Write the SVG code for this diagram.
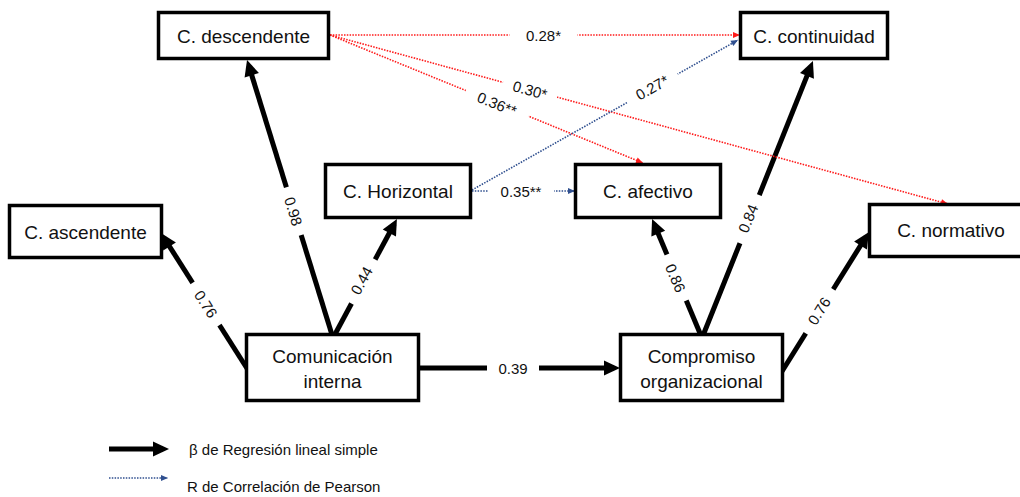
<svg xmlns="http://www.w3.org/2000/svg" width="1020" height="497" viewBox="0 0 1020 497">
<style>
.box{fill:#fff;stroke:#000;stroke-width:3.5}
.nt{font-family:"Liberation Sans",Arial,sans-serif;font-size:19px;fill:#111;text-anchor:middle}
.reg{stroke:#000;stroke-width:5;fill:none;marker-end:url(#ah)}
.red{stroke:#ff1a1a;stroke-width:1.6;stroke-dasharray:1.5 1.3;fill:none;marker-end:url(#ahr)}
.blu{stroke:#2f4f8f;stroke-width:1.6;stroke-dasharray:1.5 1.3;fill:none;marker-end:url(#ahb)}
.lb{font-family:"Liberation Sans",Arial,sans-serif;font-size:15px;fill:#111;text-anchor:middle}
.bg{fill:#fff}
.lg{font-family:"Liberation Sans",Arial,sans-serif;font-size:15px;fill:#111}
</style>
<defs>
<marker id="ah" markerUnits="strokeWidth" markerWidth="3.2" markerHeight="3" refX="2" refY="1.5" orient="auto" overflow="visible"><path d="M0,0 L3.2,1.5 L0,3 z" fill="#000"/></marker>
<marker id="ahr" markerUnits="userSpaceOnUse" markerWidth="7" markerHeight="6" refX="7" refY="3" orient="auto" overflow="visible"><path d="M0,0 L7,3 L0,6 z" fill="#ff1a1a"/></marker>
<marker id="ahb" markerUnits="userSpaceOnUse" markerWidth="7" markerHeight="6" refX="7" refY="3" orient="auto" overflow="visible"><path d="M0,0 L7,3 L0,6 z" fill="#2f4f8f"/></marker>
</defs>
<g id="connectors">
<line class="reg" x1="333" y1="338" x2="248.8" y2="65.7"/>
<line class="reg" x1="333" y1="338" x2="394.1" y2="224.2"/>
<line class="reg" x1="248" y1="370" x2="164.2" y2="238.1"/>
<line class="reg" x1="417" y1="368" x2="614" y2="368"/>
<line class="reg" x1="702" y1="338" x2="654.4" y2="224.5"/>
<line class="reg" x1="702" y1="338" x2="810.7" y2="66.6"/>
<line class="reg" x1="781" y1="373" x2="865.8" y2="237.1"/>
<line class="red" x1="330" y1="35" x2="740" y2="35"/>
<line class="red" x1="330" y1="35" x2="643" y2="163"/>
<line class="red" x1="330" y1="35" x2="948" y2="204"/>
<line class="blu" x1="472" y1="190" x2="738" y2="40"/>
<line class="blu" x1="472" y1="191" x2="575" y2="191"/>
<g transform="translate(293.5,211.3) rotate(72.6)"><rect class="bg" x="-25" y="-8" width="50" height="16"/><text class="lb" y="5.5">0.98</text></g>
<g transform="translate(361.5,280.5) rotate(-61)"><rect class="bg" x="-25" y="-8" width="50" height="16"/><text class="lb" y="5.5">0.44</text></g>
<g transform="translate(206,304) rotate(57.6)"><rect class="bg" x="-25" y="-8" width="50" height="16"/><text class="lb" y="5.5">0.76</text></g>
<g transform="translate(513,368)"><rect class="bg" x="-26" y="-8" width="52" height="16"/><text class="lb" y="5.5">0.39</text></g>
<g transform="translate(675.5,278) rotate(66.5)"><rect class="bg" x="-25" y="-8" width="50" height="16"/><text class="lb" y="5.5">0.86</text></g>
<g transform="translate(748,218.5) rotate(-67.8)"><rect class="bg" x="-26" y="-8" width="52" height="16"/><text class="lb" y="5.5">0.84</text></g>
<g transform="translate(819,311) rotate(-58)"><rect class="bg" x="-26" y="-8" width="52" height="16"/><text class="lb" y="5.5">0.76</text></g>
<g transform="translate(543.5,35)"><rect class="bg" x="-34" y="-7" width="68" height="14"/><text class="lb" y="5.5">0.28*</text></g>
<g transform="translate(497,104) rotate(22.2)"><rect class="bg" x="-34" y="-7" width="68" height="14"/><text class="lb" y="5.5">0.36**</text></g>
<g transform="translate(530,90) rotate(15.3)"><rect class="bg" x="-28" y="-7" width="56" height="14"/><text class="lb" y="5.5">0.30*</text></g>
<g transform="translate(652,87.5) rotate(-29.3)"><rect class="bg" x="-29" y="-7" width="58" height="14"/><text class="lb" y="5.5">0.27*</text></g>
<g transform="translate(521,191)"><rect class="bg" x="-33" y="-7" width="66" height="14"/><text class="lb" y="5.5">0.35**</text></g>
</g>
<g id="n-descendente"><rect class="box" x="158.5" y="12.5" width="170" height="46"/><text class="nt" x="243.5" y="42.5">C. descendente</text></g>
<g id="n-continuidad"><rect class="box" x="740.5" y="12.5" width="147" height="46"/><text class="nt" x="814" y="42.5">C. continuidad</text></g>
<g id="n-ascendente"><rect class="box" x="9.5" y="205.5" width="152" height="52"/><text class="nt" x="85.5" y="238.5">C. ascendente</text></g>
<g id="n-horizontal"><rect class="box" x="325.5" y="164.5" width="145" height="53"/><text class="nt" x="398" y="198">C. Horizontal</text></g>
<g id="n-afectivo"><rect class="box" x="575.5" y="164.5" width="145" height="53"/><text class="nt" x="648" y="198">C. afectivo</text></g>
<g id="n-normativo"><rect class="box" x="869.5" y="204.5" width="165" height="52"/><text class="nt" x="951" y="237">C. normativo</text></g>
<g id="n-comunicacion"><rect class="box" x="246.5" y="334.5" width="172" height="66"/><text class="nt" x="332.5" y="362.5">Comunicación</text><text class="nt" x="332.5" y="388">interna</text></g>
<g id="n-compromiso"><rect class="box" x="620.5" y="334.5" width="162" height="66"/><text class="nt" x="701.5" y="362.5">Compromiso</text><text class="nt" x="701.5" y="388">organizacional</text></g>
<g id="legend">
<line class="reg" x1="109" y1="449" x2="163" y2="449"/>
<text class="lg" x="189" y="455">β de Regresión lineal simple</text>
<line class="blu" x1="109" y1="478" x2="168" y2="478"/>
<text class="lg" x="187" y="492">R de Correlación de Pearson</text>
<line class="red" x1="109" y1="501" x2="168" y2="501"/>
</g>
</svg>
